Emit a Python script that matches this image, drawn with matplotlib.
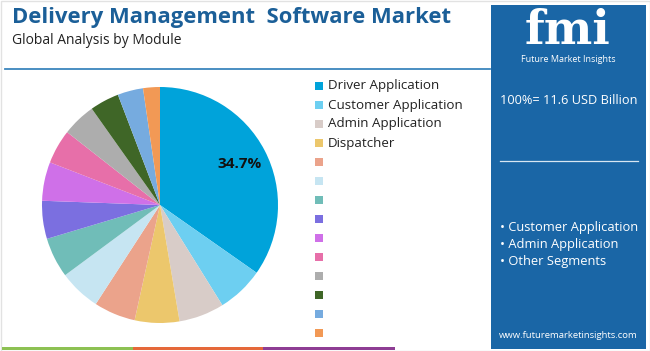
import matplotlib
matplotlib.use("Agg")
import numpy as np
import matplotlib.pyplot as plt
from matplotlib.patches import Rectangle

plt.rcParams['font.family'] = ['Open Sans', 'DejaVu Sans']

# slice shares (%), clockwise from 12 o'clock
segments = ["Driver Application", "Customer Application", "Admin Application", "Dispatcher",
            "", "", "", "", "", "", "", "", "", ""]
shares = [34.7, 6.4, 6.2, 6.1, 5.7, 5.7, 5.5, 5.2, 5.3, 4.7, 4.6, 4.0, 3.5, 2.3]
colors = ["#00A3DA", "#6DCFF1", "#D8CCC8", "#ECC76C", "#EBA38B", "#C6E5F2", "#70BDB8",
          "#7B6FE0", "#CF70E8", "#E76FA9", "#ADADAD", "#3F6627", "#76ABDF", "#F29955"]
total_label = "100%= 11.6 USD Billion"
key_segments = ["Customer Application", "Admin Application", "Other Segments"]

W, H = 650, 351
fig = plt.figure(figsize=(6.5, 3.51), dpi=100)
fig.patch.set_facecolor("white")

def fx(px):
    return px / W

def fy(py):
    return 1 - py / H

# thin light frame round the whole card
fig.add_artist(Rectangle((0.5 / W, 0.5 / H), 1 - 1 / W, 1 - 1 / H, fill=False,
                         edgecolor="#E2E2E2", lw=1))

# header
fig.text(fx(12), fy(17), "Delivery Management  Software Market", fontsize=15.8, fontweight="bold",
         color="#1B5F98", va="center", ha="left")
fig.text(fx(12), fy(40), "Global Analysis by Module", fontsize=10, color="#222222",
         va="center", ha="left")
fig.add_artist(plt.Line2D([fx(5), fx(490)], [fy(69), fy(69)], color="#3C86BD", lw=1.3))

# bottom stripe
for x0, x1, c in [(2, 133, "#8DC153"), (133, 263, "#E5683A"), (263, 395, "#8E3D94")]:
    fig.add_artist(Rectangle((fx(x0), fy(350)), fx(x1 - x0), 3 / H, color=c, lw=0))

# pie
cx, cy, r = 160, 205, 118
ax = fig.add_axes([fx(cx - r), fy(cy + r), 2 * r / W, 2 * r / H])
wedges, _ = ax.pie(shares, colors=colors, startangle=90, counterclock=False, radius=1,
                   wedgeprops=dict(linewidth=0))
ax.set_xlim(-1, 1)
ax.set_ylim(-1, 1)
ax.axis("off")
w0 = wedges[0]
mid = np.deg2rad((w0.theta1 + w0.theta2) / 2)
ax.text(0.76 * np.cos(mid), 0.76 * np.sin(mid), f"{shares[0]}%", fontsize=11,
        fontweight="bold", color="#111111", ha="center", va="center")

# legend, drawn by hand so the row pitch matches
for i, (lab, c) in enumerate(zip(segments, colors)):
    yy = 86 + 19.0 * i
    fig.add_artist(Rectangle((fx(315), fy(yy + 4)), fx(8), 8 / H, color=c, lw=0))
    fig.text(fx(328), fy(yy), lab, fontsize=9.6, color="#222222", ha="left", va="center")

# right panel
panel = "#1A66A6"
fig.add_artist(Rectangle((fx(491), fy(349)), fx(155), 344 / H, color=panel, lw=0))
fig.text(fx(567), fy(31), "fmi", fontsize=33, fontweight="bold", family="DejaVu Serif",
         color="white", ha="center", va="center")
for yy in np.arange(14, 50, 4.0):
    fig.add_artist(plt.Line2D([fx(520), fx(615)], [fy(yy), fy(yy)], color=panel, lw=0.8))
fig.text(fx(568), fy(60), "Future Market Insights", fontsize=6.5, color="white",
         ha="center", va="center")
fig.text(fx(569), fy(101), total_label, fontsize=9.2, color="white", ha="center", va="center")
fig.add_artist(plt.Line2D([fx(500), fx(638)], [fy(161), fy(161)], color="#D8E6F2", lw=0.9))
for i, s in enumerate(key_segments):
    fig.text(fx(500), fy(227 + 17.5 * i), "• " + s, fontsize=9.3, color="white",
             ha="left", va="center")
fig.text(fx(568), fy(335), "www.futuremarketinsights.com", fontsize=6.8, color="white",
         ha="center", va="center")

fig.savefig("out.png", dpi=100)
